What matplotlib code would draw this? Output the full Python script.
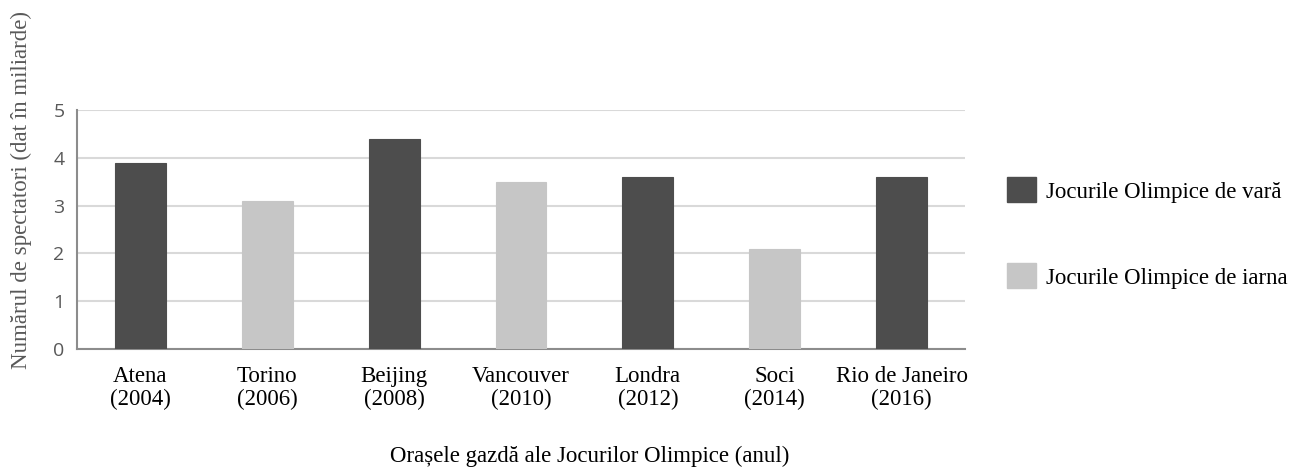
import matplotlib
matplotlib.use("Agg")
import matplotlib.pyplot as plt
from matplotlib.patches import Patch

cities = ["Atena", "Torino", "Beijing", "Vancouver", "Londra", "Soci", "Rio de Janeiro"]
years = ["2004", "2006", "2008", "2010", "2012", "2014", "2016"]
values = [3.9, 3.1, 4.4, 3.5, 3.6, 2.1, 3.6]
season = ["vara", "iarna", "vara", "iarna", "vara", "iarna", "vara"]
yticks = [0, 1, 2, 3, 4, 5]

DARK = "#4d4d4d"
LIGHT = "#c6c6c6"
SERIF = ["Liberation Serif", "DejaVu Serif"]
SANS = ["Open Sans", "DejaVu Sans"]
FS = 16.5

fig = plt.figure(figsize=(12.96, 4.70), dpi=100)
ax = fig.add_axes([77/1296, 121/470, (965-77)/1296, (349-110)/470])

x = list(range(len(cities)))
colors = [DARK if s == "vara" else LIGHT for s in season]
ax.bar(x, values, width=0.4, color=colors, edgecolor=colors, linewidth=0.8, zorder=3)

ax.set_xlim(-0.5, len(cities) - 0.5)
ax.set_ylim(0, 5)
ax.set_yticks(yticks)
ax.set_yticklabels([str(t) for t in yticks], fontfamily=SANS, fontsize=14, color="#595959")
ax.set_xticks(x)
ax.set_xticklabels([f"{c}\n({y})" for c, y in zip(cities, years)], fontfamily=SERIF,
                   fontsize=FS, color="black", linespacing=1.15)
ax.tick_params(axis="both", length=0)
ax.tick_params(axis="x", pad=12)
ax.tick_params(axis="y", pad=9)
ax.yaxis.grid(True, color="#d9d9d9", linewidth=1.5, zorder=0)
ax.set_axisbelow(True)
for s in ["top", "right"]:
    ax.spines[s].set_visible(False)
for s in ["left", "bottom"]:
    ax.spines[s].set_color("#8c8c8c")
    ax.spines[s].set_linewidth(1.5)

fig.text(21/1296, 1 - 190/470, "Numărul de spectatori (dat în miliarde)", rotation=90,
         ha="center", va="center", fontfamily=SERIF, fontsize=FS, color="#595959")
fig.text(590/1296, 1 - 456/470, "Orașele gazdă ale Jocurilor Olimpice (anul)",
         ha="center", va="center", fontfamily=SERIF, fontsize=FS, color="black")

handles = [Patch(facecolor=DARK, edgecolor=DARK), Patch(facecolor=LIGHT, edgecolor=LIGHT)]
labels = ["Jocurile Olimpice de vară", "Jocurile Olimpice de iarna"]
fig.legend(handles, labels, loc="center left", bbox_to_anchor=(986/1296, 1 - 233/470),
           frameon=False, prop={"family": SERIF, "size": FS},
           handlelength=1.3, handleheight=1.3, handletextpad=0.4, labelspacing=2.65)

fig.savefig("out.png", dpi=100)
